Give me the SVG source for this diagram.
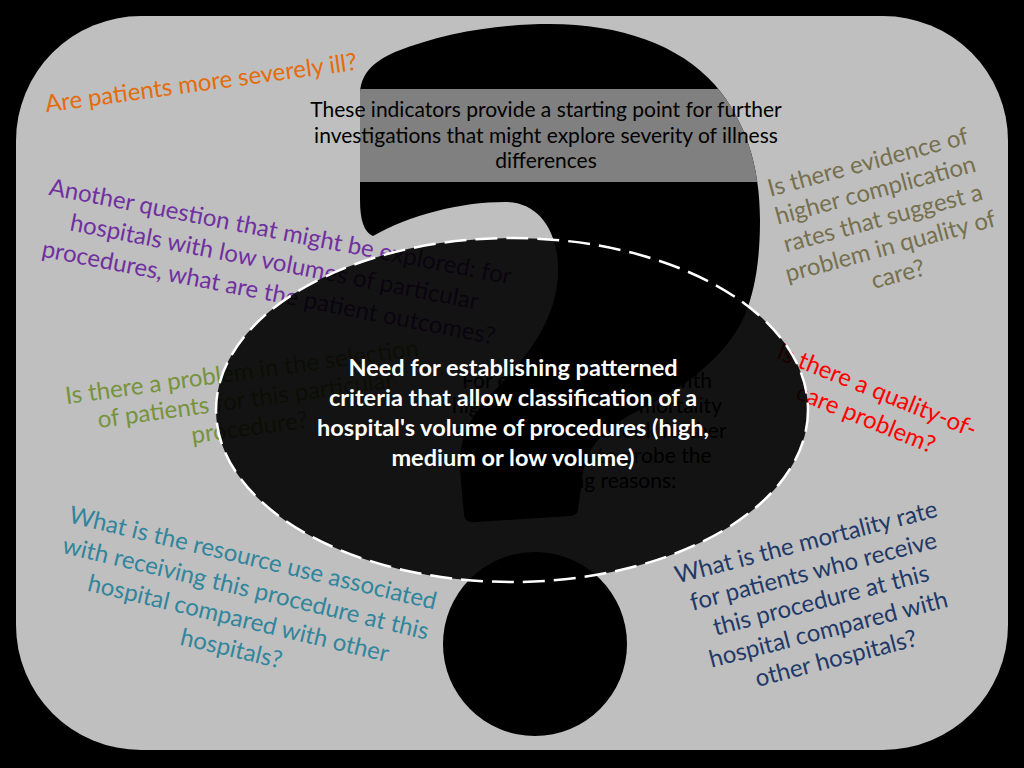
<svg xmlns="http://www.w3.org/2000/svg" width="1024" height="768" viewBox="0 0 1024 768">
  <defs>
    <style>
      .q { font-family: Lato, "Open Sans", "Liberation Sans", sans-serif; font-size: 24px; text-anchor: middle; }
      .body { font-family: Lato, "Open Sans", "Liberation Sans", sans-serif; font-size: 21px; text-anchor: middle; fill: #000; }
      .center { font-family: Lato, "Noto Sans", "Liberation Sans", sans-serif; font-size: 23.5px; font-weight: bold; text-anchor: middle; fill: #fff; }
    </style>
    <path id="qpath" d="M 373,236 C 364,232 360,220 360,200 L 360,95 C 360,75 372,62 395,52 C 445,32 500,24 550,24 C 620,24 680,45 715,85 C 745,120 760,165 760,220 C 760,260 755,290 745,315 C 725,360 680,390 630,415 C 600,432 585,450 582,480 L 578,510 C 577,514 574,516 570,516 L 475,522 C 468,523 465,520 464,515 L 460,470 C 458,440 470,415 495,390 C 535,350 560,310 558,265 C 556,225 535,202 505,202 C 460,202 410,215 373,236 Z"/>
    <clipPath id="qclip"><use href="#qpath"/></clipPath>
  </defs>

  <rect x="0" y="0" width="1024" height="768" fill="#000"/>
  <rect id="panel" x="16" y="16" width="992" height="734" rx="125" ry="125" fill="#bfbfbf"/>

  <g id="question-mark">
    <use href="#qpath" fill="#000"/>
    <rect x="300" y="89" width="490" height="93" fill="#808080" clip-path="url(#qclip)"/>
    <circle cx="535" cy="644" r="92" fill="#000"/>
  </g>

  <g id="intro-text">
    <text class="body" x="546" y="117">These indicators provide a starting point for further</text>
    <text class="body" x="546" y="143">investigations that might explore severity of illness</text>
    <text class="body" x="546" y="168">differences</text>
  </g>

  <g id="q-severity" transform="translate(202,91) rotate(-7.8)">
    <text class="q" fill="#e46c0a" x="0" y="0">Are patients more severely ill?</text>
  </g>

  <g id="q-low-volume" transform="translate(273,270) rotate(11)" fill="#7030a0">
    <text class="q" x="0" y="-31">Another question that might be explored: for</text>
    <text class="q" x="0" y="0">hospitals with low volumes of particular</text>
    <text class="q" x="0" y="31">procedures, what are the patient outcomes?</text>
  </g>

  <g id="q-complication" transform="translate(885,226) rotate(-15)" fill="#76704f">
    <text class="q" x="0" y="-58">Is there evidence of</text>
    <text class="q" x="0" y="-29">higher complication</text>
    <text class="q" x="0" y="0">rates that suggest a</text>
    <text class="q" x="0" y="29">problem in quality of</text>
    <text class="q" x="0" y="58">care?</text>
  </g>

  <g id="q-quality" transform="translate(874,398) rotate(22)" fill="#ff0000">
    <text class="q" x="0" y="0">Is there a quality-of-</text>
    <text class="q" x="0" y="30">care problem?</text>
  </g>

  <g id="q-selection" transform="translate(243,380) rotate(-7.8)" fill="#77933c">
    <text class="q" x="0" y="0">Is there a problem in the selection</text>
    <text class="q" x="0" y="28">of patients for this particular</text>
    <text class="q" x="0" y="56">procedure?</text>
  </g>

  <g id="q-resource" transform="translate(251,566) rotate(13.4)" fill="#31859c">
    <text class="q" x="0" y="0">What is the resource use associated</text>
    <text class="q" x="0" y="31">with receiving this procedure at this</text>
    <text class="q" x="0" y="62">hospital compared with other</text>
    <text class="q" x="0" y="93">hospitals?</text>
  </g>

  <g id="q-mortality" transform="translate(808,550) rotate(-14.4)" fill="#1f3a68">
    <text class="q" x="0" y="0">What is the mortality rate</text>
    <text class="q" x="0" y="30">for patients who receive</text>
    <text class="q" x="0" y="60">this procedure at this</text>
    <text class="q" x="0" y="90">hospital compared with</text>
    <text class="q" x="0" y="120">other hospitals?</text>
  </g>

  <g id="example-text">
    <text class="body" x="587" y="388">For example, hospitals with</text>
    <text class="body" x="587" y="413">higher than average mortality</text>
    <text class="body" x="587" y="438">rates may want to look further</text>
    <text class="body" x="587" y="463">into their data to probe the</text>
    <text class="body" x="587" y="488">underlying reasons:</text>
  </g>

  <g id="center-node">
    <ellipse cx="512" cy="410" rx="296" ry="172" fill="#000" fill-opacity="0.9" stroke="#fff" stroke-width="2.5" stroke-dasharray="22 9"/>
    <text class="center" x="513" y="376">Need for establishing patterned</text>
    <text class="center" x="513" y="406">criteria that allow classification of a</text>
    <text class="center" x="513" y="436">hospital's volume of procedures (high,</text>
    <text class="center" x="513" y="466">medium or low volume)</text>
  </g>
</svg>
